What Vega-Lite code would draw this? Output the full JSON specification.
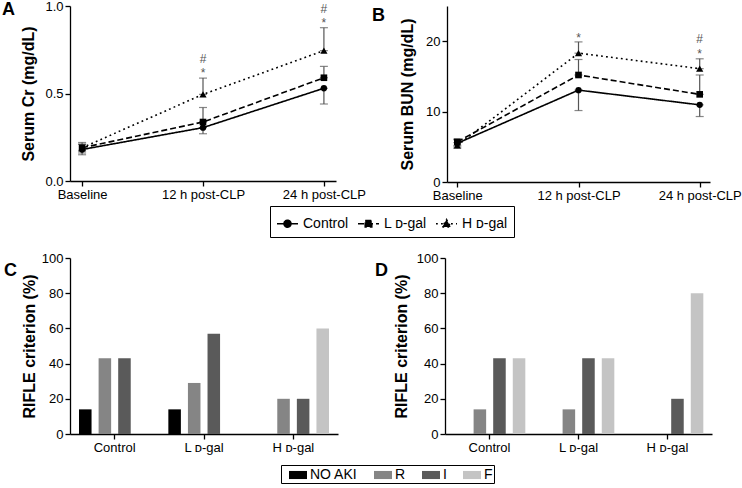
{
  "$schema": "https://vega.github.io/schema/vega-lite/v6.json",
  "padding": {"left": 2, "top": 0, "right": 4, "bottom": 0},
  "config": {
    "font": "Liberation Sans",
    "view": {"stroke": null},
    "axis": {"domainColor": "black", "domainWidth": 1.3, "tickColor": "black", "tickWidth": 1.3, "tickSize": 5, "labelColor": "black", "labelFontSize": 13, "labelPadding": 2, "titleColor": "black", "titleFontSize": 16, "titleFontWeight": "bold", "grid": false},
    "title": {"color": "black", "fontSize": 18, "fontWeight": "bold", "anchor": "start", "frame": "group", "offset": 0}
  },
  "datasets": {
    "cr": [
      {"time": "Baseline", "group": "Control", "mean": 0.18, "lo": 0.15, "hi": 0.21},
      {"time": "12 h post-CLP", "group": "Control", "mean": 0.305, "lo": 0.27, "hi": 0.305},
      {"time": "24 h post-CLP", "group": "Control", "mean": 0.53, "lo": 0.44, "hi": 0.53},
      {"time": "Baseline", "group": "L ᴅ-gal", "mean": 0.19, "lo": 0.16, "hi": 0.22},
      {"time": "12 h post-CLP", "group": "L ᴅ-gal", "mean": 0.337, "lo": 0.337, "hi": 0.42},
      {"time": "24 h post-CLP", "group": "L ᴅ-gal", "mean": 0.59, "lo": 0.59, "hi": 0.655},
      {"time": "Baseline", "group": "H ᴅ-gal", "mean": 0.19, "lo": 0.17, "hi": 0.21},
      {"time": "12 h post-CLP", "group": "H ᴅ-gal", "mean": 0.495, "lo": 0.495, "hi": 0.588},
      {"time": "24 h post-CLP", "group": "H ᴅ-gal", "mean": 0.745, "lo": 0.745, "hi": 0.876}
    ],
    "crAnn": [
      {"time": "12 h post-CLP", "pos": 0.62, "label": "*"},
      {"time": "12 h post-CLP", "pos": 0.70, "label": "#"},
      {"time": "24 h post-CLP", "pos": 0.905, "label": "*"},
      {"time": "24 h post-CLP", "pos": 0.985, "label": "#"}
    ],
    "bun": [
      {"time": "Baseline", "group": "Control", "mean": 5.5, "lo": 5.0, "hi": 6.0},
      {"time": "12 h post-CLP", "group": "Control", "mean": 13.05, "lo": 10.15, "hi": 13.05},
      {"time": "24 h post-CLP", "group": "Control", "mean": 10.96, "lo": 9.3, "hi": 10.96},
      {"time": "Baseline", "group": "L ᴅ-gal", "mean": 5.7, "lo": 5.2, "hi": 6.1},
      {"time": "12 h post-CLP", "group": "L ᴅ-gal", "mean": 15.2, "lo": 15.2, "hi": 17.4},
      {"time": "24 h post-CLP", "group": "L ᴅ-gal", "mean": 12.45, "lo": 12.45, "hi": 15.2},
      {"time": "Baseline", "group": "H ᴅ-gal", "mean": 5.2, "lo": 4.8, "hi": 5.6},
      {"time": "12 h post-CLP", "group": "H ᴅ-gal", "mean": 18.3, "lo": 18.3, "hi": 19.9},
      {"time": "24 h post-CLP", "group": "H ᴅ-gal", "mean": 16.1, "lo": 16.1, "hi": 17.5}
    ],
    "bunAnn": [
      {"time": "12 h post-CLP", "pos": 20.5, "label": "*"},
      {"time": "24 h post-CLP", "pos": 18.2, "label": "*"},
      {"time": "24 h post-CLP", "pos": 20.3, "label": "#"}
    ],
    "rifleC": [
      {"grp": "Control", "grade": "NO AKI", "pct": 14},
      {"grp": "Control", "grade": "R", "pct": 43},
      {"grp": "Control", "grade": "I", "pct": 43},
      {"grp": "L ᴅ-gal", "grade": "NO AKI", "pct": 14},
      {"grp": "L ᴅ-gal", "grade": "R", "pct": 29},
      {"grp": "L ᴅ-gal", "grade": "I", "pct": 57},
      {"grp": "H ᴅ-gal", "grade": "R", "pct": 20},
      {"grp": "H ᴅ-gal", "grade": "I", "pct": 20},
      {"grp": "H ᴅ-gal", "grade": "F", "pct": 60}
    ],
    "rifleD": [
      {"grp": "Control", "grade": "R", "pct": 14},
      {"grp": "Control", "grade": "I", "pct": 43},
      {"grp": "Control", "grade": "F", "pct": 43},
      {"grp": "L ᴅ-gal", "grade": "R", "pct": 14},
      {"grp": "L ᴅ-gal", "grade": "I", "pct": 43},
      {"grp": "L ᴅ-gal", "grade": "F", "pct": 43},
      {"grp": "H ᴅ-gal", "grade": "I", "pct": 20},
      {"grp": "H ᴅ-gal", "grade": "F", "pct": 80}
    ]
  },
  "bounds": "full",
  "spacing": 50,
  "vconcat": [
    {
      "bounds": "flush",
      "spacing": 111,
      "hconcat": [
        {
          "width": 266, "height": 175,
          "title": {"text": "A", "dx": -68, "dy": 23},
          "data": {"name": "cr"},
          "encoding": {
            "x": {"field": "time", "type": "ordinal", "scale": {"type": "point", "padding": 0.1, "domain": ["Baseline", "12 h post-CLP", "24 h post-CLP"]}, "axis": {"title": null, "labelAngle": 0}}
          },
          "layer": [
            {"mark": {"type": "rule", "color": "#555", "strokeWidth": 1.2},
             "encoding": {"y": {"field": "lo", "type": "quantitative", "title": "Serum Cr (mg/dL)", "scale": {"domain": [0, 1], "nice": false}, "axis": {"values": [0, 0.5, 1], "format": ".1f", "titlePadding": 8}}, "y2": {"field": "hi"}}},
            {"mark": {"type": "tick", "color": "#555", "thickness": 1.2, "size": 8},
             "encoding": {"y": {"field": "lo", "type": "quantitative", "title": "Serum Cr (mg/dL)"}}},
            {"mark": {"type": "tick", "color": "#555", "thickness": 1.2, "size": 8},
             "encoding": {"y": {"field": "hi", "type": "quantitative", "title": "Serum Cr (mg/dL)"}}},
            {"mark": {"type": "line", "color": "black", "strokeWidth": 1.6},
             "encoding": {
               "y": {"field": "mean", "type": "quantitative", "title": "Serum Cr (mg/dL)"},
               "strokeDash": {"field": "group", "type": "nominal", "scale": {"domain": ["Control", "L ᴅ-gal", "H ᴅ-gal"], "range": [[1, 0], [6, 3], [1.8, 3.2]]},
                 "legend": {"title": null, "orient": "none", "legendX": 200, "legendY": 200, "direction": "horizontal", "strokeColor": "black", "padding": 6, "symbolSize": 441, "symbolStrokeWidth": 1.6, "symbolStrokeColor": "black", "labelFontSize": 14, "labelColor": "black", "labelOffset": 4, "columnPadding": 5,
                   "encode": {"symbols": {"update": {"shape": {"signal": "datum.index === 0 ? 'M-1,0H1M-0.33,0A0.33,0.33,0,1,1,0.33,0A0.33,0.33,0,1,1,-0.33,0Z' : datum.index === 1 ? 'M-1,0H1M-0.31,-0.31H0.31V0.31H-0.31Z' : 'M-1,0H1M0,-0.4L0.4,0.3H-0.4Z'"}, "size": {"value": 441}, "fill": {"value": "black"}, "stroke": {"value": "black"}, "strokeWidth": {"value": 1.6}}}}}}
             }},
            {"transform": [{"filter": "datum.group === 'Control'"}], "mark": {"type": "point", "filled": true, "color": "black", "opacity": 1, "shape": "circle", "size": 40},
             "encoding": {"y": {"field": "mean", "type": "quantitative", "title": "Serum Cr (mg/dL)"}}},
            {"transform": [{"filter": "datum.group === 'L ᴅ-gal'"}], "mark": {"type": "point", "filled": true, "color": "black", "opacity": 1, "shape": "square", "size": 44},
             "encoding": {"y": {"field": "mean", "type": "quantitative", "title": "Serum Cr (mg/dL)"}}},
            {"transform": [{"filter": "datum.group === 'H ᴅ-gal'"}], "mark": {"type": "point", "filled": true, "color": "black", "opacity": 1, "shape": "triangle-up", "size": 52},
             "encoding": {"y": {"field": "mean", "type": "quantitative", "title": "Serum Cr (mg/dL)"}}},
            {"data": {"name": "crAnn"}, "mark": {"type": "text", "color": "#555", "fontSize": 12, "baseline": "middle"},
             "encoding": {"y": {"field": "pos", "type": "quantitative", "title": "Serum Cr (mg/dL)"}, "text": {"field": "label"}}}
          ]
        },
        {
          "width": 263, "height": 176,
          "title": {"text": "B", "dx": -75, "dy": 23},
          "data": {"name": "bun"},
          "encoding": {
            "x": {"field": "time", "type": "ordinal", "scale": {"type": "point", "padding": 0.085, "domain": ["Baseline", "12 h post-CLP", "24 h post-CLP"]}, "axis": {"title": null, "labelAngle": 0}}
          },
          "layer": [
            {"mark": {"type": "rule", "color": "#555", "strokeWidth": 1.2},
             "encoding": {"y": {"field": "lo", "type": "quantitative", "title": "Serum BUN (mg/dL)", "scale": {"domain": [0, 25], "nice": false}, "axis": {"values": [0, 5, 10, 15, 20, 25], "titlePadding": 10}}, "y2": {"field": "hi"}}},
            {"mark": {"type": "tick", "color": "#555", "thickness": 1.2, "size": 8},
             "encoding": {"y": {"field": "lo", "type": "quantitative", "title": "Serum BUN (mg/dL)"}}},
            {"mark": {"type": "tick", "color": "#555", "thickness": 1.2, "size": 8},
             "encoding": {"y": {"field": "hi", "type": "quantitative", "title": "Serum BUN (mg/dL)"}}},
            {"mark": {"type": "line", "color": "black", "strokeWidth": 1.6},
             "encoding": {
               "y": {"field": "mean", "type": "quantitative", "title": "Serum BUN (mg/dL)"},
               "strokeDash": {"field": "group", "type": "nominal", "scale": {"domain": ["Control", "L ᴅ-gal", "H ᴅ-gal"], "range": [[1, 0], [6, 3], [1.8, 3.2]]}}
             }},
            {"transform": [{"filter": "datum.group === 'Control'"}], "mark": {"type": "point", "filled": true, "color": "black", "opacity": 1, "shape": "circle", "size": 40},
             "encoding": {"y": {"field": "mean", "type": "quantitative", "title": "Serum BUN (mg/dL)"}}},
            {"transform": [{"filter": "datum.group === 'L ᴅ-gal'"}], "mark": {"type": "point", "filled": true, "color": "black", "opacity": 1, "shape": "square", "size": 44},
             "encoding": {"y": {"field": "mean", "type": "quantitative", "title": "Serum BUN (mg/dL)"}}},
            {"transform": [{"filter": "datum.group === 'H ᴅ-gal'"}], "mark": {"type": "point", "filled": true, "color": "black", "opacity": 1, "shape": "triangle-up", "size": 52},
             "encoding": {"y": {"field": "mean", "type": "quantitative", "title": "Serum BUN (mg/dL)"}}},
            {"data": {"name": "bunAnn"}, "mark": {"type": "text", "color": "#555", "fontSize": 12, "baseline": "middle"},
             "encoding": {"y": {"field": "pos", "type": "quantitative", "title": "Serum BUN (mg/dL)"}, "text": {"field": "label"}}}
          ]
        }
      ]
    },
    {
      "bounds": "flush",
      "spacing": 107,
      "hconcat": [
        {
          "width": 268, "height": 176,
          "title": {"text": "C", "dx": -66, "dy": 32},
          "data": {"name": "rifleC"},
          "mark": {"type": "bar"},
          "encoding": {
            "x": {"field": "grp", "type": "nominal", "scale": {"domain": ["Control", "L ᴅ-gal", "H ᴅ-gal"], "paddingInner": 0, "paddingOuter": 0}, "axis": {"title": null, "labelAngle": 0, "bandPosition": 0.5}},
            "xOffset": {"field": "grade", "type": "nominal", "scale": {"domain": ["NO AKI", "R", "I", "F"], "paddingInner": 0.36, "paddingOuter": 0.46}},
            "y": {"field": "pct", "type": "quantitative", "title": "RIFLE criterion (%)", "scale": {"domain": [0, 100], "nice": false}, "axis": {"values": [0, 20, 40, 60, 80, 100], "titlePadding": 4}},
            "color": {"field": "grade", "type": "nominal", "scale": {"domain": ["NO AKI", "R", "I", "F"], "range": ["#000000", "#858585", "#5a5a5a", "#c4c4c4"]},
              "legend": {"title": null, "orient": "none", "legendX": 211, "legendY": 459, "direction": "horizontal", "strokeColor": "black", "padding": 1, "symbolOffset": 7, "symbolSize": 324, "symbolType": "M-1,-0.45H1V0.45H-1Z", "symbolStrokeWidth": 0, "labelFontSize": 14, "labelColor": "black", "labelOffset": 3, "columnPadding": 9}}
          }
        },
        {
          "width": 267, "height": 176,
          "title": {"text": "D", "dx": -70, "dy": 32},
          "data": {"name": "rifleD"},
          "mark": {"type": "bar"},
          "encoding": {
            "x": {"field": "grp", "type": "nominal", "scale": {"domain": ["Control", "L ᴅ-gal", "H ᴅ-gal"], "paddingInner": 0, "paddingOuter": 0}, "axis": {"title": null, "labelAngle": 0, "bandPosition": 0.5}},
            "xOffset": {"field": "grade", "type": "nominal", "scale": {"domain": ["NO AKI", "R", "I", "F"], "paddingInner": 0.36, "paddingOuter": 0.46}},
            "y": {"field": "pct", "type": "quantitative", "title": "RIFLE criterion (%)", "scale": {"domain": [0, 100], "nice": false}, "axis": {"values": [0, 20, 40, 60, 80, 100], "titlePadding": 7}},
            "color": {"field": "grade", "type": "nominal", "scale": {"domain": ["NO AKI", "R", "I", "F"], "range": ["#000000", "#858585", "#5a5a5a", "#c4c4c4"]}}
          }
        }
      ]
    }
  ]
}
